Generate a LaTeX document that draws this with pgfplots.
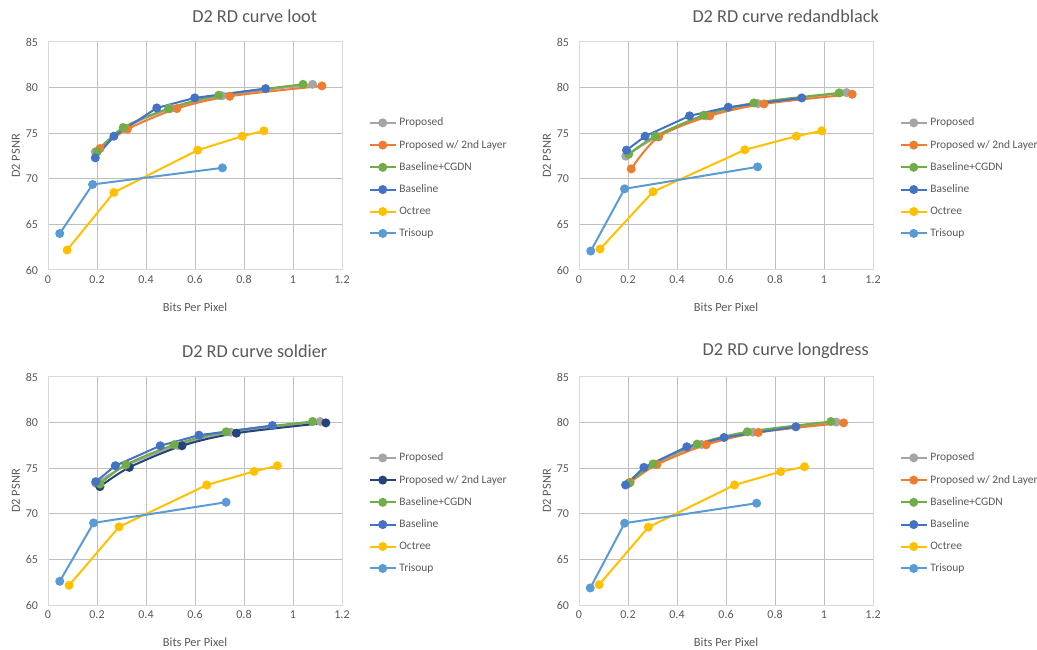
\documentclass[border=0pt]{standalone}
\usepackage{pgfplots}
\pgfplotsset{compat=1.18}
\usepackage{fontspec}
\setmainfont{Carlito}
\definecolor{cgray}{HTML}{A5A5A5}
\definecolor{corange}{HTML}{ED7D31}
\definecolor{cgreen}{HTML}{70AD47}
\definecolor{cblue}{HTML}{4472C4}
\definecolor{cgold}{HTML}{FFC000}
\definecolor{clblue}{HTML}{5B9BD5}
\definecolor{cnavy}{HTML}{264478}
\definecolor{grid}{HTML}{D9D9D9}
\definecolor{txt}{HTML}{595959}
\pgfplotsset{
  every axis title shift=0pt,
  rd/.style={
    scale only axis, width=220.5pt, height=171pt,
    xmin=0, xmax=1.2, ymin=60, ymax=85,
    xtick={0,0.2,...,1.2}, ytick={60,65,...,85},
    xticklabels={0,0.2,0.4,0.6,0.8,1,1.2},
    grid=major, major grid style={grid, line width=0.75pt},
    axis line style={grid, line width=0.75pt},
    tick style={draw=none},
    /pgf/number format/assume math mode=true,
    tick label style={font=\fontsize{9pt}{10pt}\selectfont, text=txt},
    xticklabel style={yshift=-0.5pt},
    yticklabel style={xshift=-4pt},
    label style={font=\fontsize{9.3pt}{11pt}\selectfont, text=txt},
    xlabel={Bits Per Pixel},
    ylabel={D2 PSNR},
    xlabel style={at={(0.5,-0.162)}, anchor=center},
    ylabel style={at={(-0.109,0.5)}, anchor=center, rotate=0},
    title style={at={(0.703,1.114)}, anchor=center, font=\fontsize{13.7pt}{16pt}\selectfont, text=txt},
    legend cell align=left,
    legend style={draw=none, fill=none, at={(1.09,0.68)}, anchor=north west,
      font=\fontsize{8.6pt}{10pt}\selectfont, text=txt, row sep=5.2pt, inner sep=0pt},
    legend image code/.code={\draw[mark repeat=2,mark phase=2] plot coordinates {(0pt,0pt) (9.75pt,0pt) (19.5pt,0pt)};},
    every axis plot/.append style={line width=1.5pt, mark=*, mark size=2.6pt, mark options={solid}},
    clip=false,
  },
  sgray/.style={cgray, smooth},
  sorange/.style={corange, smooth},
  snavy/.style={cnavy, smooth},
  sgreen/.style={cgreen, smooth},
  sblue/.style={cblue},
  sgold/.style={cgold},
  slblue/.style={clblue},
}
\begin{document}
\begin{tikzpicture}
\useasboundingbox (0,0) rectangle (777.75pt,486.75pt);
% ---------- loot
\begin{axis}[rd, at={(36pt,284.25pt)}, anchor=south west, title={D2 RD curve loot}]
\addplot[sgray] coordinates {(0.193,72.96) (0.31,75.55) (0.50,77.7) (0.71,79.1) (1.08,80.36)};
\addplot[sorange] coordinates {(0.212,73.32) (0.324,75.44) (0.526,77.7) (0.742,79.05) (1.118,80.18)};
\addplot[sgreen] coordinates {(0.201,72.96) (0.307,75.62) (0.492,77.7) (0.697,79.16) (1.041,80.36)};
\addplot[sblue] coordinates {(0.193,72.3) (0.269,74.67) (0.444,77.77) (0.599,78.87) (0.888,79.89)};
\addplot[sgold] coordinates {(0.078,62.19) (0.269,68.5) (0.611,73.14) (0.793,74.67) (0.881,75.26)};
\addplot[slblue] coordinates {(0.048,64.0) (0.182,69.38) (0.712,71.2)};
\legend{Proposed, Proposed w/ 2nd Layer, Baseline+CGDN, Baseline, Octree, Trisoup}
\end{axis}
% ---------- redandblack
\begin{axis}[rd, at={(434.25pt,284.25pt)}, anchor=south west, title={D2 RD curve redandblack}]
\addplot[sgray] coordinates {(0.191,72.48) (0.318,74.6) (0.52,76.9) (0.73,78.25) (1.092,79.45)};
\addplot[sorange] coordinates {(0.213,71.09) (0.325,74.6) (0.534,76.9) (0.755,78.21) (1.115,79.27)};
\addplot[sgreen] coordinates {(0.203,72.7) (0.311,74.67) (0.509,76.97) (0.714,78.32) (1.062,79.42)};
\addplot[sblue] coordinates {(0.194,73.14) (0.270,74.67) (0.451,76.9) (0.609,77.85) (0.909,78.87)};
\addplot[sgold] coordinates {(0.086,62.3) (0.302,68.58) (0.677,73.18) (0.887,74.67) (0.991,75.26)};
\addplot[slblue] coordinates {(0.048,62.08) (0.186,68.9) (0.729,71.31)};
\legend{Proposed, Proposed w/ 2nd Layer, Baseline+CGDN, Baseline, Octree, Trisoup}
\end{axis}
% ---------- soldier
\begin{axis}[rd, at={(36pt,33pt)}, anchor=south west, title={D2 RD curve soldier}]
\addplot[sgray] coordinates {(0.195,73.34) (0.32,75.3) (0.53,77.5) (0.745,78.95) (1.111,80.12)};
\addplot[snavy] coordinates {(0.212,72.98) (0.332,75.09) (0.547,77.46) (0.769,78.84) (1.134,79.97)};
\addplot[sgreen] coordinates {(0.212,73.27) (0.318,75.38) (0.515,77.57) (0.727,78.99) (1.080,80.12)};
\addplot[sblue] coordinates {(0.195,73.52) (0.275,75.27) (0.458,77.46) (0.616,78.62) (0.916,79.68)};
\addplot[sgold] coordinates {(0.086,62.16) (0.290,68.57) (0.648,73.16) (0.841,74.65) (0.936,75.27)};
\addplot[slblue] coordinates {(0.048,62.6) (0.186,69.0) (0.727,71.27)};
\legend{Proposed, Proposed w/ 2nd Layer, Baseline+CGDN, Baseline, Octree, Trisoup}
\end{axis}
% ---------- longdress
\begin{axis}[rd, at={(434.25pt,33pt)}, anchor=south west, title={D2 RD curve longdress}]
\addplot[sgray] coordinates {(0.205,73.4) (0.31,75.45) (0.50,77.6) (0.71,78.95) (1.05,80.05)};
\addplot[sorange] coordinates {(0.209,73.45) (0.318,75.4) (0.519,77.57) (0.732,78.92) (1.080,79.97)};
\addplot[sgreen] coordinates {(0.203,73.34) (0.302,75.46) (0.482,77.64) (0.687,78.99) (1.028,80.12)};
\addplot[sblue] coordinates {(0.190,73.16) (0.265,75.09) (0.440,77.35) (0.592,78.37) (0.885,79.54)};
\addplot[sgold] coordinates {(0.082,62.23) (0.283,68.53) (0.635,73.16) (0.823,74.62) (0.920,75.16)};
\addplot[slblue] coordinates {(0.046,61.87) (0.186,68.97) (0.725,71.16)};
\legend{Proposed, Proposed w/ 2nd Layer, Baseline+CGDN, Baseline, Octree, Trisoup}
\end{axis}
\end{tikzpicture}
\end{document}
